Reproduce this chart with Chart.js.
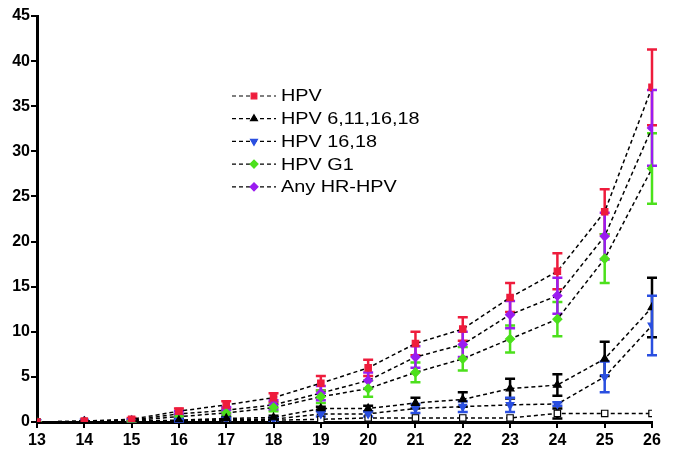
<!DOCTYPE html>
<html>
<head>
<meta charset="utf-8">
<script src="https://cdn.jsdelivr.net/npm/chart.js@4"></script>
<style>
  html, body { margin: 0; padding: 0; background: #fff; }
  #wrap { width: 675px; height: 459px; position: relative; }
</style>
</head>
<body>
<div id="wrap"><canvas id="chart"></canvas></div>
<script>
// ages on the x axis
const ages = [13, 14, 15, 16, 17, 18, 19, 20, 21, 22, 23, 24, 25, 26];

// cumulative values (%), with error bar half-widths
const hpv = [0, 0.1, 0.3, 1.2, 1.9, 2.7, 4.3, 6.0, 8.7, 10.3, 13.8, 16.7, 23.3, 37.1];
const hpvErr = [0, 0.05, 0.15, 0.3, 0.4, 0.5, 0.8, 0.9, 1.3, 1.3, 1.6, 2.0, 2.5, 4.2];
const hpv4 = [0, 0.05, 0.1, 0.2, 0.4, 0.5, 1.5, 1.5, 2.1, 2.5, 3.7, 4.1, 7.0, 12.7];
const hpv4Err = [0, 0, 0.05, 0.1, 0.15, 0.2, 0.2, 0.3, 0.6, 0.8, 1.1, 1.2, 1.9, 3.3];
const hpv1618 = [0, 0.05, 0.1, 0.15, 0.3, 0.3, 0.9, 0.9, 1.5, 1.7, 1.9, 2.0, 5.0, 10.7];
const hpv1618Err = [0, 0, 0.05, 0.1, 0.1, 0.15, 0.3, 0.3, 0.5, 0.6, 0.8, 0.2, 1.7, 3.3];
const hpvG1 = [0, 0.05, 0.15, 0.6, 1.0, 1.6, 2.8, 3.7, 5.5, 7.0, 9.2, 11.4, 18.1, 28.1];
const hpvG1Err = [0, 0, 0.1, 0.2, 0.3, 0.4, 0.7, 0.9, 1.1, 1.3, 1.5, 1.9, 2.7, 3.9];
const anyHR = [0, 0.1, 0.2, 0.9, 1.3, 1.9, 3.2, 4.6, 7.2, 8.6, 11.9, 14.0, 20.6, 32.6];
const anyHRErr = [0, 0.05, 0.1, 0.3, 0.35, 0.5, 0.8, 0.9, 1.2, 1.4, 1.5, 2.0, 2.6, 4.2];
// series with open squares, not in the legend
const other = [0, 0, 0.05, 0.1, 0.15, 0.2, 0.3, 0.45, 0.45, 0.45, 0.45, 0.95, 0.95, 0.95];
const otherErr = [0, 0, 0, 0, 0, 0, 0, 0, 0, 0, 0, 0.55, 0, 0];

const yTicks = [0, 5, 10, 15, 20, 25, 30, 35, 40, 45];

function points(vals) {
    return vals.map((v, i) => ({ x: ages[i], y: v }));
}

function makeSet(label, vals, errs, color, style, rot, fill, inLegend) {
    return {
        label: label,
        data: points(vals),
        errors: errs,
        errColor: color,
        inLegend: inLegend,
        borderColor: '#000',
        borderWidth: 1.5,
        borderDash: [4, 3],
        pointStyle: style,
        pointRotation: rot,
        pointRadius: 4.5,
        pointBackgroundColor: fill,
        pointBorderColor: fill === '#fff' ? '#000' : color,
        pointBorderWidth: 1.2,
        tension: 0
    };
}

// draws the error bars under the lines
const errorBars = {
    id: 'errorBars',
    beforeDatasetsDraw(chart) {
        const ctx = chart.ctx;
        const xs = chart.scales.x, ys = chart.scales.y;
        const order = [0, 3, 1, 2, 4, 5];
        ctx.save();
        order.forEach(idx => {
            const ds = chart.data.datasets[idx];
            ctx.strokeStyle = ds.errColor;
            ctx.lineWidth = 2.5;
            ds.data.forEach((p, i) => {
                const e = ds.errors[i];
                if (e < 0.1) return;
                const px = xs.getPixelForValue(p.x);
                const top = ys.getPixelForValue(p.y + e);
                const bot = ys.getPixelForValue(Math.max(0, p.y - e));
                ctx.beginPath();
                ctx.moveTo(px, top); ctx.lineTo(px, bot);
                ctx.moveTo(px - 5, top); ctx.lineTo(px + 5, top);
                ctx.moveTo(px - 5, bot); ctx.lineTo(px + 5, bot);
                ctx.stroke();
            });
        });
        ctx.restore();
    }
};

// legend inside the plot, dashed sample line with the marker in the middle
const insideLegend = {
    id: 'insideLegend',
    afterDraw(chart) {
        const ctx = chart.ctx;
        let y = 96;
        ctx.save();
        chart.data.datasets.forEach(ds => {
            if (!ds.inLegend) return;
            ctx.strokeStyle = '#000';
            ctx.lineWidth = 1.2;
            ctx.setLineDash([4, 3]);
            ctx.beginPath();
            ctx.moveTo(232, y); ctx.lineTo(276, y);
            ctx.stroke();
            ctx.setLineDash([]);
            ctx.fillStyle = ds.errColor;
            ctx.strokeStyle = ds.errColor;
            Chart.helpers.drawPoint(ctx, {
                pointStyle: ds.pointStyle, rotation: ds.pointRotation,
                radius: 4, borderWidth: 1
            }, 254, y);
            // the original text is a little stretched sideways
            ctx.save();
            ctx.translate(281, y + 1);
            ctx.scale(1.24, 1);
            ctx.fillStyle = '#000';
            ctx.font = '16px "Liberation Sans", Arial, sans-serif';
            ctx.textBaseline = 'middle';
            ctx.fillText(ds.label, 0, 0);
            ctx.restore();
            y += 22.7;
        });
        ctx.restore();
    }
};

const tickFont = { family: '"Liberation Sans", Arial, sans-serif', size: 16, weight: 'bold' };

new Chart(document.getElementById('chart'), {
    type: 'line',
    data: {
        datasets: [
            makeSet('HPV', hpv, hpvErr, '#ee1c3c', 'rect', 0, '#ee1c3c', true),
            makeSet('HPV 6,11,16,18', hpv4, hpv4Err, '#000000', 'triangle', 0, '#000000', true),
            makeSet('HPV 16,18', hpv1618, hpv1618Err, '#2a4fe0', 'triangle', 180, '#2a4fe0', true),
            makeSet('HPV G1', hpvG1, hpvG1Err, '#4ce01c', 'rectRot', 0, '#4ce01c', true),
            makeSet('Any HR-HPV', anyHR, anyHRErr, '#9a1cf0', 'rectRot', 0, '#9a1cf0', true),
            makeSet('', other, otherErr, '#000000', 'rect', 0, '#fff', false)
        ]
    },
    options: {
        responsive: true,
        maintainAspectRatio: false,
        animation: false,
        layout: { padding: { top: 16, right: 23, left: 0, bottom: 0 } },
        plugins: { legend: { display: false }, tooltip: { enabled: false } },
        scales: {
            x: {
                type: 'linear',
                min: 13, max: 26,
                afterFit: (s) => { s.height = 37; },
                border: { color: '#000', width: 3 },
                grid: { drawOnChartArea: false, color: '#000', tickLength: 6, lineWidth: 2 },
                ticks: { stepSize: 1, color: '#000', font: tickFont, padding: 3 }
            },
            y: {
                min: 0, max: 45,
                afterFit: (s) => { s.width = 37; },
                afterBuildTicks: (s) => { s.ticks = yTicks.map(v => ({ value: v })); },
                border: { color: '#000', width: 3 },
                grid: { drawOnChartArea: false, color: '#000', tickLength: 6, lineWidth: 2 },
                ticks: { color: '#000', font: tickFont, padding: 1 }
            }
        }
    },
    plugins: [errorBars, insideLegend]
});
</script>
</body>
</html>
